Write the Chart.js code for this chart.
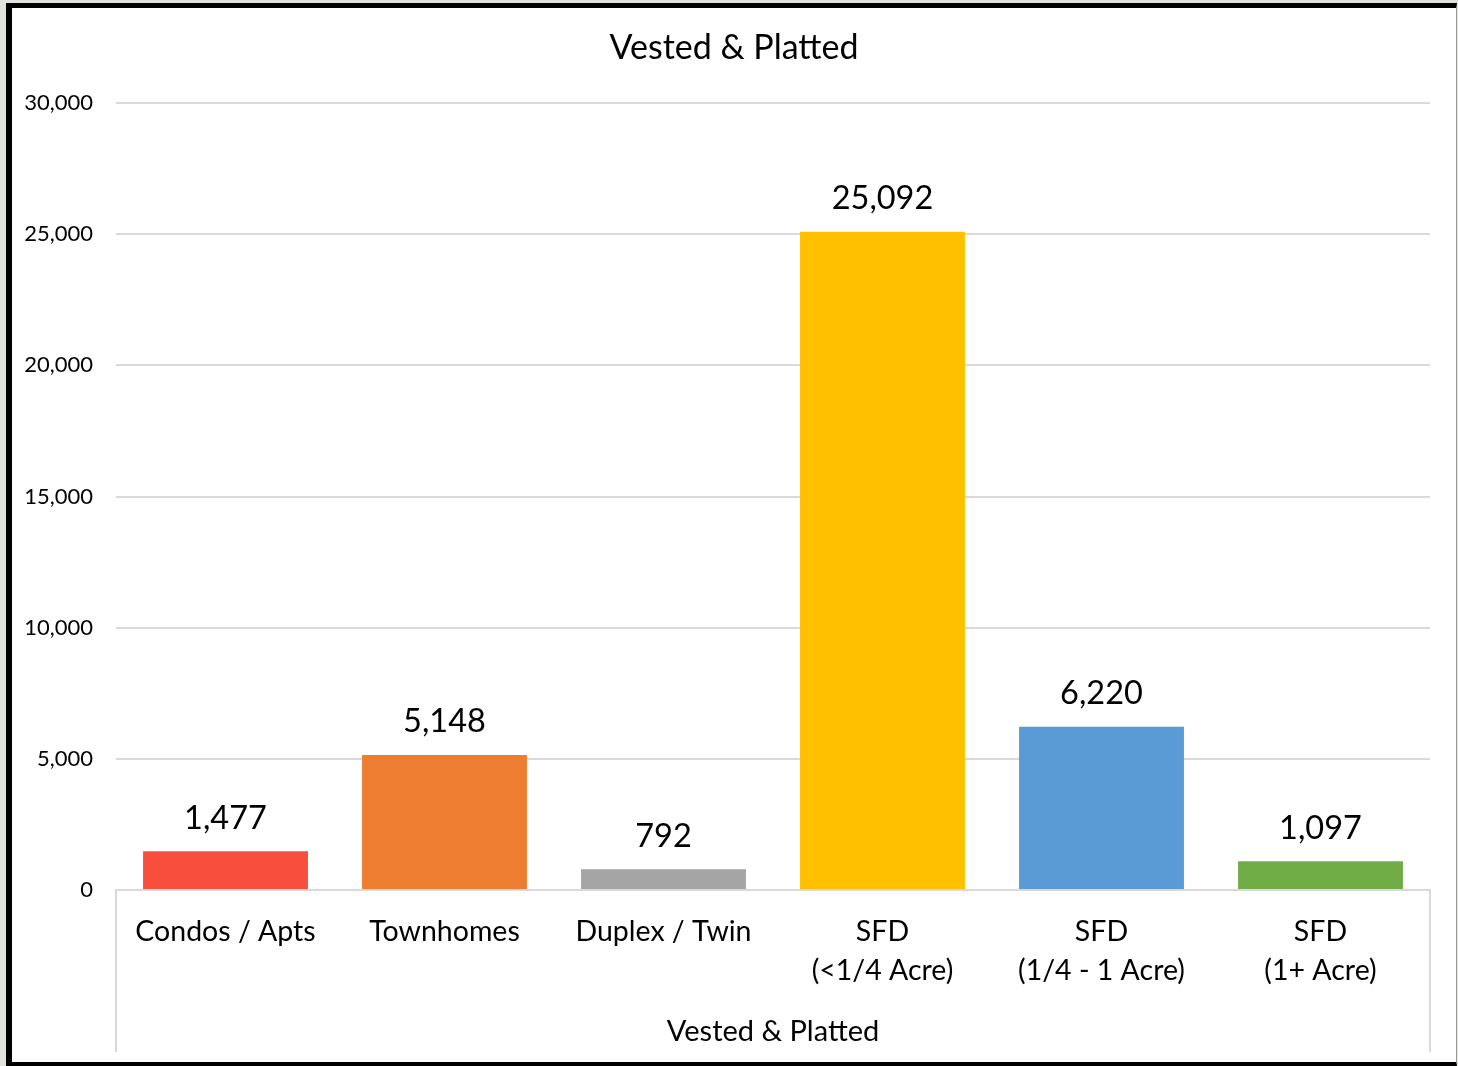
<!DOCTYPE html>
<html lang="en">
<head>
  <meta charset="UTF-8">
  <title>Vested &amp; Platted</title>
  <script src="https://cdn.jsdelivr.net/npm/chart.js"></script>
  <style>
    html, body {
      margin: 0;
      padding: 0;
      background-color: #e1e1dd;
      overflow: hidden;
    }
    .frame {
      position: absolute;
      left: 6px;
      top: 3px;
      width: 1451px;
      height: 1063px;
      box-sizing: border-box;
      background: #fff;
      border-left: 6px solid #000;
      border-top: 5px solid #000;
      border-bottom: 4px solid #000;
      border-right: 1px solid #9a9a9a;
    }
    #chart {
      position: absolute;
      left: 0;
      top: 0;
    }
  </style>
</head>
<body>
  <div class="frame"></div>
  <canvas id="chart" width="1458" height="1066"></canvas>

  <script>
    // Units by housing type
    const categories = [
      'Condos / Apts',
      'Townhomes',
      'Duplex / Twin',
      ['SFD', '(<1/4 Acre)'],
      ['SFD', '(1/4 - 1 Acre)'],
      ['SFD', '(1+ Acre)']
    ];
    const units = [1477, 5148, 792, 25092, 6220, 1097];
    const barColors = ['#f74e3e', '#ed7d31', '#a5a5a5', '#ffc000', '#5b9bd5', '#70ad47'];
    const groupLabel = 'Vested & Platted';

    const FONT = 'Lato';
    const GRID = '#d9d9d9';

    // value labels above each bar
    const valueLabels = {
      id: 'valueLabels',
      afterDatasetsDraw(chart) {
        const ctx = chart.ctx;
        const meta = chart.getDatasetMeta(0);
        ctx.save();
        ctx.font = '32.5px ' + FONT;
        ctx.fillStyle = '#000';
        ctx.textAlign = 'center';
        ctx.textBaseline = 'middle';
        meta.data.forEach((bar, i) => {
          ctx.fillText(units[i].toLocaleString('en-US'), bar.x, bar.y - 33);
        });
        ctx.restore();
      }
    };

    // vertical lines boxing in the category group under the axis
    const groupFrame = {
      id: 'groupFrame',
      afterDraw(chart) {
        const x = chart.scales.x;
        const ctx = chart.ctx;
        ctx.save();
        ctx.strokeStyle = GRID;
        ctx.lineWidth = 2;
        ctx.beginPath();
        [x.left, x.right].forEach(px => {
          ctx.moveTo(px, x.top);
          ctx.lineTo(px, x.top + 162);
        });
        ctx.stroke();
        ctx.restore();
      }
    };

    new Chart(document.getElementById('chart'), {
      type: 'bar',
      data: {
        labels: categories,
        datasets: [{
          data: units,
          backgroundColor: barColors,
          categoryPercentage: 1,
          barPercentage: 0.753
        }]
      },
      options: {
        responsive: false,
        animation: false,
        layout: { padding: { left: 10, right: 0, top: 0, bottom: 0 } },
        plugins: {
          legend: { display: false },
          tooltip: { enabled: false },
          title: {
            display: true,
            text: groupLabel,
            color: '#000',
            font: { family: FONT, size: 34, weight: 'normal', lineHeight: 1.2 },
            padding: { top: 27.6, bottom: 34.6 }
          }
        },
        scales: {
          y: {
            min: 0,
            max: 30000,
            ticks: {
              stepSize: 5000,
              padding: 23,
              color: '#000',
              font: { family: FONT, size: 22 },
              callback: v => v.toLocaleString('en-US')
            },
            grid: { color: GRID, lineWidth: 2, drawTicks: false },
            border: { display: false },
            afterFit(scale) { scale.width = 106; }
          },
          // empty strip on the right, keeps the plot clear of the frame
          yRight: {
            position: 'right',
            ticks: { display: false },
            grid: { display: false, drawTicks: false },
            border: { display: false },
            afterFit(scale) { scale.width = 28; }
          },
          x: {
            ticks: {
              padding: 22.5,
              color: '#000',
              autoSkip: false,
              maxRotation: 0,
              font: { family: FONT, size: 28.5, lineHeight: 1.37 }
            },
            grid: { display: false, drawTicks: false },
            border: { display: true, color: GRID, width: 2 },
            title: {
              display: true,
              text: groupLabel,
              color: '#000',
              font: { family: FONT, size: 29, lineHeight: 1.2 },
              padding: { top: 0, bottom: 16.6 }
            },
            afterFit(scale) { scale.height = 176; }
          }
        }
      },
      plugins: [valueLabels, groupFrame]
    });
  </script>
</body>
</html>
